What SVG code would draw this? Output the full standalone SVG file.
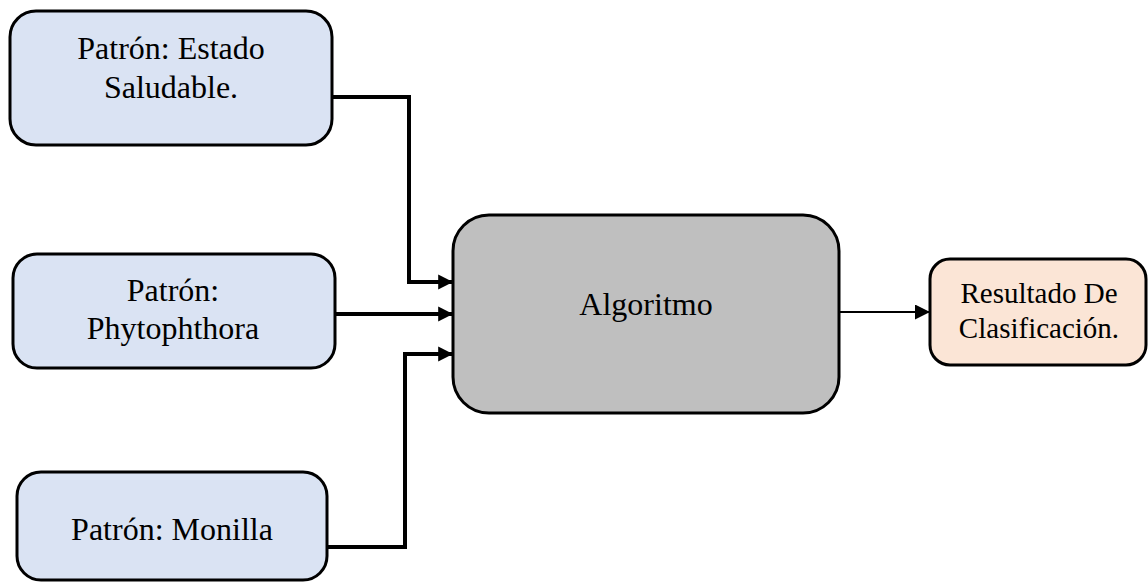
<svg xmlns="http://www.w3.org/2000/svg" width="1148" height="582" viewBox="0 0 1148 582">
  <style>
    .box { stroke: #000; stroke-width: 3; }
    .pattern { fill: #dae3f3; }
    .algo { fill: #bfbfbf; }
    .result { fill: #fbe5d6; }
    .label { font-family: "Liberation Serif", "Times New Roman", serif; font-size: 32px; fill: #000; text-anchor: middle; }
    .small { font-size: 29px; }
    .wire { fill: none; stroke: #000; stroke-width: 4; }
    .thin { stroke-width: 2; }
  </style>
  <defs>
    <marker id="arrow" viewBox="0 0 10 10" refX="10" refY="5" markerWidth="3.7" markerHeight="3.8" markerUnits="strokeWidth" orient="auto">
      <path d="M0,0 L10,5 L0,10 Z" fill="#000"/>
    </marker>
    <marker id="arrowThin" viewBox="0 0 10 10" refX="10" refY="5" markerWidth="7.5" markerHeight="7.5" markerUnits="strokeWidth" orient="auto">
      <path d="M0,0 L10,5 L0,10 Z" fill="#000"/>
    </marker>
  </defs>

  <g id="connectors">
    <path class="wire" d="M332,97 H409 V282 H453" marker-end="url(#arrow)"/>
    <path class="wire" d="M335,314 H453" marker-end="url(#arrow)"/>
    <path class="wire" d="M327,547 H405 V354 H453" marker-end="url(#arrow)"/>
    <path class="wire thin" d="M839,312 H930" marker-end="url(#arrowThin)"/>
  </g>

  <g id="patron-saludable">
    <rect class="box pattern" x="10" y="11" width="322" height="134" rx="26"/>
    <text class="label" x="171" y="59">Patrón: Estado</text>
    <text class="label" x="171" y="98">Saludable.</text>
  </g>

  <g id="patron-phytophthora">
    <rect class="box pattern" x="13" y="254" width="322" height="114" rx="24"/>
    <text class="label" x="173" y="301">Patrón:</text>
    <text class="label" x="173" y="339">Phytophthora</text>
  </g>

  <g id="patron-monilla">
    <rect class="box pattern" x="17" y="472" width="310" height="108" rx="24"/>
    <text class="label" x="172" y="540">Patrón: Monilla</text>
  </g>

  <g id="algoritmo">
    <rect class="box algo" x="453" y="215" width="386" height="198" rx="36"/>
    <text class="label" x="646" y="315">Algoritmo</text>
  </g>

  <g id="resultado">
    <rect class="box result" x="930" y="259" width="216" height="106" rx="20"/>
    <text class="label small" x="1039" y="303">Resultado De</text>
    <text class="label small" x="1039" y="338">Clasificación.</text>
  </g>
</svg>
